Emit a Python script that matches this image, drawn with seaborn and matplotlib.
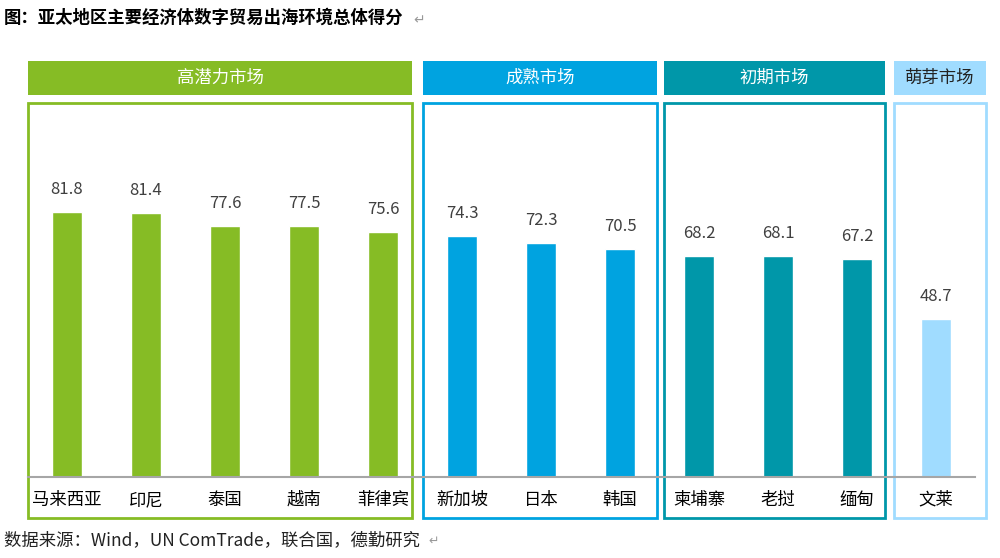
import seaborn as sns
import matplotlib.pyplot as plt
import matplotlib.transforms as mtransforms
from matplotlib.patches import Rectangle
import pandas as pd

countries = ["马来西亚", "印尼", "泰国", "越南", "菲律宾",
             "新加坡", "日本", "韩国",
             "柬埔寨", "老挝", "缅甸",
             "文莱"]
scores = [81.8, 81.4, 77.6, 77.5, 75.6,
          74.3, 72.3, 70.5,
          68.2, 68.1, 67.2,
          48.7]
groups = ["高潜力市场"] * 5 + ["成熟市场"] * 3 + ["初期市场"] * 3 + ["萌芽市场"]
group_names = ["高潜力市场", "成熟市场", "初期市场", "萌芽市场"]
group_colors = ["#86BC25", "#00A3E0", "#0097A9", "#A0DCFF"]
# box spans in category units (left, right)
group_spans = [(-0.49, 4.37), (4.51, 7.47), (7.56, 10.35), (10.47, 11.63)]

df = pd.DataFrame({"country": countries, "score": scores, "group": groups})

sns.set_theme(style="white")
plt.rcParams["font.family"] = ["Noto Sans CJK SC", "DejaVu Sans"]

fig = plt.figure(figsize=(10, 5.58), dpi=100)
ax = fig.add_axes([0.0275, 0.1452, 0.948, 0.5806])

sns.barplot(data=df, x="country", y="score", hue="group",
            palette=dict(zip(group_names, group_colors)), saturation=1,
            dodge=False, width=0.39, legend=False, ax=ax)

for c in ax.containers:
    ax.bar_label(c, fmt="%.1f", padding=10, fontsize=12, color="#404040")

ax.set_ylim(0, 100)
ax.set_xlim(-0.5, len(countries) - 0.5)
ax.set_yticks([])
ax.set_xlabel("")
ax.set_ylabel("")
for s in ["top", "left", "right"]:
    ax.spines[s].set_visible(False)
ax.spines["bottom"].set_color("#A6A6A6")
ax.spines["bottom"].set_linewidth(1.5)
ax.tick_params(axis="x", length=0, pad=10, labelsize=12.5, labelcolor="black")

# group outlines and header boxes
trans = mtransforms.blended_transform_factory(ax.transData, fig.transFigure)
for name, color, (x0, x1) in zip(group_names, group_colors, group_spans):
    ax.add_patch(Rectangle((x0, 1 - 518 / 558), x1 - x0, (518 - 103) / 558,
                           transform=trans, fill=False, edgecolor=color,
                           linewidth=2, clip_on=False))
    ax.add_patch(Rectangle((x0, 1 - 95 / 558), x1 - x0, 34 / 558,
                           transform=trans, facecolor=color, edgecolor="none",
                           clip_on=False))
    txt_color = "#222222" if name == "萌芽市场" else "white"
    ax.text((x0 + x1) / 2, 1 - 78 / 558, name, transform=trans,
            ha="center", va="center", fontsize=12.5, color=txt_color)

fig.text(0.004, 1 - 18 / 558, "图：亚太地区主要经济体数字贸易出海环境总体得分",
         fontsize=12.5, fontweight="bold", va="center", ha="left", color="black")
fig.text(0.413, 1 - 20 / 558, "↵", fontsize=10, va="center", ha="left",
         color="#999999", family=["DejaVu Sans"])
fig.text(0.004, 1 - 540 / 558, "数据来源：Wind，UN ComTrade，联合国，德勤研究",
         fontsize=12.5, va="center", ha="left", color="#222222")
fig.text(0.428, 1 - 541 / 558, "↵", fontsize=9, va="center", ha="left",
         color="#999999", family=["DejaVu Sans"])

plt.savefig("out.png", dpi=100)
plt.close()
